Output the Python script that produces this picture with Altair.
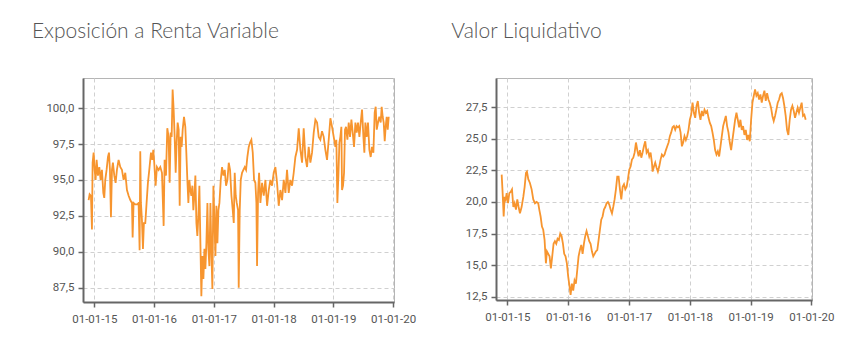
import altair as alt
import pandas as pd

# ---- Exposición a Renta Variable (decimal year, %) ----
exp_t = [2014.905, 2014.922, 2014.944, 2014.961, 2014.972, 2014.989, 2015.006, 2015.022, 2015.039, 2015.061,
         2015.084, 2015.106, 2015.128, 2015.151, 2015.167, 2015.184, 2015.206, 2015.229, 2015.246, 2015.262,
         2015.279, 2015.296, 2015.312, 2015.335, 2015.357, 2015.379, 2015.407, 2015.435, 2015.463, 2015.491,
         2015.519, 2015.547, 2015.575, 2015.603, 2015.631, 2015.642, 2015.658, 2015.686, 2015.720, 2015.742,
         2015.759, 2015.770, 2015.781, 2015.798, 2015.815, 2015.831, 2015.854, 2015.876, 2015.898, 2015.921,
         2015.949, 2015.971, 2015.988, 2016.004, 2016.027, 2016.049, 2016.077, 2016.105, 2016.133, 2016.161,
         2016.177, 2016.200, 2016.222, 2016.244, 2016.261, 2016.278, 2016.295, 2016.311, 2016.328, 2016.345,
         2016.362, 2016.378, 2016.395, 2016.412, 2016.429, 2016.445, 2016.462, 2016.479, 2016.501, 2016.523,
         2016.540, 2016.557, 2016.574, 2016.590, 2016.607, 2016.624, 2016.641, 2016.657, 2016.674, 2016.691,
         2016.708, 2016.724, 2016.741, 2016.758, 2016.775, 2016.791, 2016.808, 2016.825, 2016.842, 2016.858,
         2016.875, 2016.892, 2016.908, 2016.925, 2016.942, 2016.959, 2016.975, 2016.992, 2017.009, 2017.026,
         2017.042, 2017.059, 2017.076, 2017.093, 2017.115, 2017.137, 2017.160, 2017.182, 2017.204, 2017.227,
         2017.249, 2017.271, 2017.294, 2017.316, 2017.333, 2017.349, 2017.366, 2017.383, 2017.405, 2017.416,
         2017.433, 2017.450, 2017.472, 2017.494, 2017.517, 2017.539, 2017.561, 2017.584, 2017.606, 2017.628,
         2017.651, 2017.673, 2017.695, 2017.712, 2017.723, 2017.740, 2017.757, 2017.779, 2017.807, 2017.835,
         2017.863, 2017.891, 2017.919, 2017.946, 2017.974, 2018.002, 2018.030, 2018.058, 2018.086, 2018.114,
         2018.142, 2018.170, 2018.198, 2018.225, 2018.253, 2018.281, 2018.309, 2018.337, 2018.365, 2018.393,
         2018.421, 2018.449, 2018.477, 2018.504, 2018.532, 2018.560, 2018.588, 2018.616, 2018.644, 2018.672,
         2018.700, 2018.728, 2018.756, 2018.783, 2018.811, 2018.839, 2018.867, 2018.895, 2018.923, 2018.951,
         2018.979, 2019.007, 2019.035, 2019.051, 2019.068, 2019.085, 2019.102, 2019.118, 2019.135, 2019.146,
         2019.163, 2019.180, 2019.196, 2019.213, 2019.236, 2019.258, 2019.280, 2019.303, 2019.325, 2019.347,
         2019.370, 2019.392, 2019.414, 2019.437, 2019.459, 2019.481, 2019.504, 2019.520, 2019.537, 2019.559,
         2019.581, 2019.604, 2019.626, 2019.648, 2019.671, 2019.693, 2019.710, 2019.727, 2019.749, 2019.771,
         2019.794, 2019.810, 2019.827, 2019.844, 2019.861, 2019.877, 2019.894, 2019.911, 2019.928]
exp_v = [93.6, 94.0, 93.9, 91.55, 96.2, 96.9, 95.7, 95.0, 96.4, 95.3,
         95.9, 95.0, 95.7, 94.1, 93.75, 95.0, 95.7, 96.6, 96.9, 95.7,
         92.4, 95.7, 96.2, 95.3, 94.8, 95.7, 96.4, 95.9, 95.7, 95.0,
         95.5, 94.3, 93.9, 93.6, 93.4, 91.0, 93.4, 93.3, 93.3, 93.4,
         90.1, 97.0, 93.4, 92.2, 90.2, 92.0, 92.0, 93.4, 94.8, 95.7,
         96.9, 96.4, 97.1, 96.2, 94.6, 95.9, 95.7, 95.9, 95.5, 91.8,
         96.4, 95.3, 98.6, 98.0, 94.8, 98.3, 98.0, 101.3, 99.9, 98.0,
         95.5, 97.6, 99.0, 98.5, 93.2, 98.0, 97.3, 98.5, 99.4, 98.7,
         96.9, 95.0, 93.4, 95.0, 94.3, 93.9, 94.6, 92.9, 93.9, 95.3,
         92.0, 91.1, 92.5, 94.6, 90.6, 86.9, 89.7, 88.1, 90.2, 88.8,
         90.6, 93.4, 90.2, 89.0, 93.4, 89.9, 87.4, 94.6, 92.2, 89.7,
         93.2, 90.6, 92.9, 93.4, 95.0, 95.9, 95.3, 95.7, 94.6, 95.0,
         96.2, 95.7, 93.9, 92.9, 92.0, 95.5, 93.9, 93.4, 92.9, 87.5,
         92.9, 95.0, 95.5, 95.7, 95.9, 95.7, 96.6, 97.3, 97.6, 97.8,
         96.9, 95.0, 94.8, 93.4, 89.0, 94.1, 95.5, 93.4, 94.8, 93.9,
         95.0, 93.2, 94.3, 95.0, 94.6, 95.5, 95.9, 94.8, 93.2, 94.3,
         93.6, 95.0, 94.1, 95.7, 94.1, 95.0, 94.6, 95.5, 96.6, 97.1,
         98.6, 97.1, 96.2, 98.6, 96.6, 95.9, 97.3, 96.2, 96.9, 98.3,
         99.2, 99.0, 98.0, 97.8, 98.4, 98.0, 97.1, 96.4, 97.8, 99.3,
         98.7, 98.0, 97.3, 97.8, 93.4, 95.3, 97.6, 98.0, 98.7, 94.3,
         94.6, 95.5, 98.5, 98.7, 97.8, 99.0, 98.0, 99.2, 98.3, 97.3,
         99.0, 98.3, 99.0, 98.0, 99.0, 99.9, 98.0, 96.9, 99.0, 98.0,
         99.0, 97.1, 96.6, 97.3, 96.9, 99.7, 100.1, 98.5, 99.0, 99.4,
         99.0, 100.1, 99.4, 99.0, 97.7, 98.7, 99.4, 98.5, 99.4]

# ---- Valor Liquidativo (decimal year, value) ----
vl_t = [2014.907, 2014.923, 2014.940, 2014.956, 2014.973, 2014.989, 2015.011, 2015.033, 2015.055, 2015.077,
        2015.099, 2015.120, 2015.142, 2015.164, 2015.186, 2015.208, 2015.235, 2015.263, 2015.285, 2015.307,
        2015.323, 2015.345, 2015.372, 2015.400, 2015.427, 2015.455, 2015.482, 2015.509, 2015.526, 2015.548,
        2015.570, 2015.591, 2015.613, 2015.635, 2015.652, 2015.674, 2015.695, 2015.717, 2015.739, 2015.761,
        2015.783, 2015.805, 2015.827, 2015.849, 2015.871, 2015.893, 2015.915, 2015.936, 2015.958, 2015.980,
        2016.002, 2016.024, 2016.041, 2016.062, 2016.084, 2016.106, 2016.128, 2016.150, 2016.172, 2016.194,
        2016.216, 2016.238, 2016.260, 2016.281, 2016.303, 2016.325, 2016.347, 2016.369, 2016.391, 2016.413,
        2016.435, 2016.457, 2016.479, 2016.501, 2016.522, 2016.544, 2016.566, 2016.588, 2016.610, 2016.632,
        2016.654, 2016.676, 2016.698, 2016.720, 2016.741, 2016.763, 2016.785, 2016.807, 2016.829, 2016.851,
        2016.873, 2016.895, 2016.917, 2016.939, 2016.961, 2016.982, 2017.004, 2017.026, 2017.048, 2017.070,
        2017.092, 2017.114, 2017.136, 2017.158, 2017.180, 2017.202, 2017.223, 2017.245, 2017.267, 2017.289,
        2017.311, 2017.333, 2017.355, 2017.377, 2017.388, 2017.410, 2017.431, 2017.453, 2017.475, 2017.497,
        2017.519, 2017.541, 2017.563, 2017.585, 2017.607, 2017.629, 2017.651, 2017.672, 2017.694, 2017.716,
        2017.738, 2017.760, 2017.782, 2017.804, 2017.826, 2017.848, 2017.870, 2017.891, 2017.913, 2017.935,
        2017.957, 2017.979, 2018.001, 2018.023, 2018.045, 2018.067, 2018.089, 2018.111, 2018.132, 2018.154,
        2018.176, 2018.198, 2018.220, 2018.242, 2018.264, 2018.286, 2018.308, 2018.330, 2018.352, 2018.373,
        2018.395, 2018.417, 2018.439, 2018.461, 2018.483, 2018.505, 2018.527, 2018.549, 2018.571, 2018.593,
        2018.614, 2018.636, 2018.658, 2018.680, 2018.702, 2018.724, 2018.746, 2018.768, 2018.790, 2018.812,
        2018.833, 2018.855, 2018.877, 2018.899, 2018.921, 2018.943, 2018.965, 2018.987, 2019.009, 2019.031,
        2019.053, 2019.074, 2019.096, 2019.118, 2019.140, 2019.162, 2019.184, 2019.206, 2019.228, 2019.250,
        2019.272, 2019.294, 2019.315, 2019.337, 2019.359, 2019.381, 2019.403, 2019.425, 2019.447, 2019.469,
        2019.491, 2019.513, 2019.535, 2019.556, 2019.578, 2019.600, 2019.622, 2019.644, 2019.666, 2019.688,
        2019.710, 2019.732, 2019.753, 2019.775, 2019.797, 2019.819, 2019.841, 2019.863, 2019.885, 2019.907]
vl_v = [22.16, 20.7, 18.85, 20.4, 20.2, 20.7, 19.9, 20.7, 20.8, 21.0,
        19.6, 19.9, 19.4, 20.2, 19.6, 19.1, 19.6, 20.4, 21.2, 22.3,
        22.4, 21.8, 21.5, 21.0, 20.2, 19.9, 20.0, 19.9, 19.4, 18.85,
        18.06, 17.8, 17.0, 15.15, 16.1, 15.9, 15.7, 14.75, 15.7, 16.7,
        16.9, 16.7, 17.1, 17.0, 17.5, 17.3, 16.7, 15.9, 15.7, 15.15,
        14.1, 13.3, 12.65, 13.55, 13.0, 13.8, 13.55, 14.6, 15.7, 16.2,
        16.6, 15.9, 16.7, 17.3, 17.7, 17.3, 16.9, 16.7, 16.1, 15.7,
        15.9, 16.1, 16.2, 17.0, 17.8, 18.6, 18.85, 19.4, 19.6, 19.9,
        20.0, 19.8, 19.4, 19.1, 19.6, 20.2, 21.0, 22.0, 22.0, 21.0,
        20.2, 21.2, 21.4, 21.0, 21.2, 21.8, 22.55, 22.8, 23.35, 23.5,
        23.9, 24.7, 24.1, 23.6, 24.1, 23.5, 23.9, 24.4, 24.8, 23.9,
        24.1, 23.6, 23.9, 23.1, 22.4, 22.8, 23.1, 22.7, 22.4, 22.8,
        23.35, 23.75, 23.6, 23.75, 24.1, 24.4, 24.7, 25.2, 25.5, 25.9,
        26.0, 25.7, 26.0, 25.9, 26.0, 25.5, 24.4, 24.7, 25.2, 24.9,
        25.2, 25.7, 26.5, 26.9, 27.85, 27.05, 26.65, 27.6, 27.98, 27.05,
        26.5, 27.2, 26.8, 27.3, 27.05, 27.2, 26.65, 26.25, 26.0, 25.5,
        24.9, 24.1, 23.75, 24.0, 23.6, 24.4, 25.2, 26.0, 26.4, 26.8,
        26.0, 25.5, 24.7, 24.1, 24.9, 25.7, 26.5, 27.05, 26.5, 25.9,
        26.5, 25.7, 26.0, 25.3, 25.7, 24.9, 25.3, 24.8, 26.5, 27.85,
        28.4, 28.9, 28.4, 28.6, 28.1, 28.5, 27.85, 28.4, 28.8, 28.0,
        28.6, 28.1, 27.85, 27.45, 26.8, 26.4, 26.8, 27.3, 27.85, 28.1,
        28.5, 28.6, 28.2, 27.6, 26.8, 25.7, 25.3, 26.5, 27.3, 27.6,
        27.2, 26.65, 27.05, 27.45, 27.05, 27.45, 27.85, 26.8, 26.9, 26.5]

year_ticks = [2015, 2016, 2017, 2018, 2019, 2020]


def to_date(t):
    y = int(t)
    start = pd.Timestamp(year=y, month=1, day=1)
    days = (pd.Timestamp(year=y + 1, month=1, day=1) - start).days
    return (start + pd.Timedelta(days=(t - y) * days)).strftime("%Y-%m-%dT%H:%M:%S")


LINE = "#f7952f"
TITLE_STYLE = dict(anchor="start", dx=-14, offset=36, font="Lato", fontWeight=300,
                   fontSize=21, color="#555555")


def panel(title, ts, vs, ydomain, yticks, xdomain, w, h):
    df = pd.DataFrame({"date": [to_date(t) for t in ts], "value": vs})
    return alt.Chart(df, title=alt.TitleParams(title, **TITLE_STYLE)).mark_line(
        color=LINE, strokeWidth=1.8, clip=True
    ).encode(
        x=alt.X("date:T",
                scale=alt.Scale(domain=xdomain),
                axis=alt.Axis(values=[alt.DateTime(year=y, month=1, date=1) for y in year_ticks],
                              format="%d-%m-%y", title=None, labelFlush=False, labelPadding=6)),
        y=alt.Y("value:Q",
                scale=alt.Scale(domain=ydomain, nice=False, zero=False),
                axis=alt.Axis(values=yticks, title=None, labelPadding=4,
                              labelExpr="replace(format(datum.value, '.1f'), '.', ',')")),
    ).properties(width=w, height=h)


left = panel("Exposición a Renta Variable", exp_t, exp_v, [86.5, 102.1],
             [87.5, 90.0, 92.5, 95.0, 97.5, 100.0],
             [alt.DateTime(year=2014, month=10, date=24), alt.DateTime(year=2020, month=1, date=7)],
             311, 224)
right = panel("Valor Liquidativo", vl_t, vl_v, [12.25, 29.8],
              [12.5, 15.0, 17.5, 20.0, 22.5, 25.0, 27.5],
              [alt.DateTime(year=2014, month=10, date=25), alt.DateTime(year=2020, month=1, date=5)],
              316, 222)

chart = alt.hconcat(left, right, spacing=33).properties(
    padding={"left": 23, "top": 12, "right": 5, "bottom": 5},
    background="white",
).configure_view(
    stroke="#b5b5b5", strokeWidth=1
).configure_axis(
    domainColor="#666666", domainWidth=2, tickColor="#666666", tickWidth=1.5, tickSize=5,
    labelColor="#555555", labelFont="Roboto", labelFontSize=11.5,
    grid=True, gridColor="#d0d0d0", gridDash=[4, 3], gridWidth=1,
)

chart.save("out.html", embed_options={"renderer": "svg", "actions": False})
